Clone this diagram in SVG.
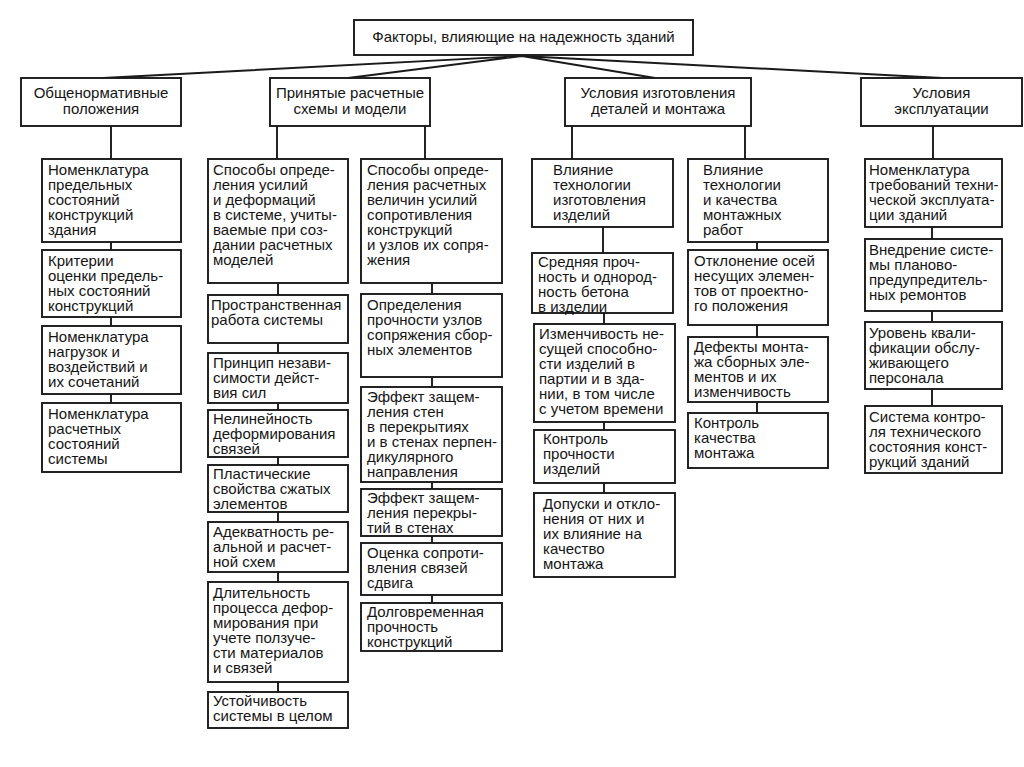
<svg xmlns="http://www.w3.org/2000/svg" width="1024" height="767" viewBox="0 0 1024 767">
<style>
.bg{fill:#ffffff}
.box{fill:#ffffff;stroke:#1a1a1a;stroke-width:1.9}
.ln{stroke:#1a1a1a;stroke-width:1.9;fill:none}
.t{font-family:"Liberation Sans",Arial,sans-serif;font-size:15px;fill:#151515}
.c{text-anchor:middle}
</style>
<rect class="bg" x="0" y="0" width="1024" height="767"/>
<g id="connectors">
<path class="ln" d="M522 56 L103 78 M522 56 L348 78 M522 56 L655 78 M522 56 L942 78"/>
<path class="ln" d="M111 126 V159 M111 242 V250 M111 317 V326 M111 394 V403"/>
<path class="ln" d="M277 126 V159 M278 283 V295 M278 343 V353 M278 403 V410 M278 457 V465 M278 512 V522 M278 572 V582 M278 682 V692"/>
<path class="ln" d="M425 126 V159 M432 283 V294 M432 377 V387 M432 482 V489 M432 536 V543 M432 595 V603"/>
<path class="ln" d="M572 126 V159 M603 227 V253 M604 313 V324 M604 422 V430 M604 483 V493"/>
<path class="ln" d="M745 126 V159 M757 242 V250 M757 325 V337 M757 402 V413"/>
<path class="ln" d="M933 126 V159 M932 227 V239 M932 311 V322 M932 389 V406"/>
</g>
<g id="root">
<rect class="box" x="354" y="20" width="339" height="35"/>
<text class="t c" x="523.5" y="42">Факторы, влияющие на надежность зданий</text>
</g>
<g id="general">
<rect class="box" x="21" y="78" width="160" height="48"/>
<text class="t c" x="101" y="98">Общенормативные<tspan x="101" dy="16">положения</tspan></text>
</g>
<g id="models">
<rect class="box" x="270" y="78" width="160" height="48"/>
<text class="t c" x="350" y="98">Принятые расчетные<tspan x="350" dy="16">схемы и модели</tspan></text>
</g>
<g id="manufacturing">
<rect class="box" x="565" y="78" width="186" height="48"/>
<text class="t c" x="658" y="98">Условия изготовления<tspan x="658" dy="16">деталей и монтажа</tspan></text>
</g>
<g id="operation">
<rect class="box" x="861" y="78" width="161" height="48"/>
<text class="t c" x="941.5" y="98">Условия<tspan x="941.5" dy="16">эксплуатации</tspan></text>
</g>

<g id="c1b1"><rect class="box" x="42" y="159" width="139" height="83"/>
<text class="t" x="48" y="175">Номенклатура<tspan x="48" dy="15">предельных</tspan><tspan x="48" dy="15">состояний</tspan><tspan x="48" dy="15">конструкций</tspan><tspan x="48" dy="15">здания</tspan></text></g>
<g id="c1b2"><rect class="box" x="42" y="250" width="139" height="67"/>
<text class="t" x="48" y="266">Критерии<tspan x="48" dy="15">оценки предель-</tspan><tspan x="48" dy="15">ных состояний</tspan><tspan x="48" dy="15">конструкций</tspan></text></g>
<g id="c1b3"><rect class="box" x="42" y="326" width="139" height="68"/>
<text class="t" x="48" y="342">Номенклатура<tspan x="48" dy="15">нагрузок и</tspan><tspan x="48" dy="15">воздействий и</tspan><tspan x="48" dy="15">их сочетаний</tspan></text></g>
<g id="c1b4"><rect class="box" x="42" y="403" width="139" height="69"/>
<text class="t" x="48" y="419">Номенклатура<tspan x="48" dy="15">расчетных</tspan><tspan x="48" dy="15">состояний</tspan><tspan x="48" dy="15">системы</tspan></text></g>

<g id="c2b1"><rect class="box" x="208" y="159" width="140" height="124"/>
<text class="t" x="213" y="175">Способы опреде-<tspan x="213" dy="15">ления усилий</tspan><tspan x="213" dy="15">и деформаций</tspan><tspan x="213" dy="15">в системе, учиты-</tspan><tspan x="213" dy="15">ваемые при соз-</tspan><tspan x="213" dy="15">дании расчетных</tspan><tspan x="213" dy="15">моделей</tspan></text></g>
<g id="c2b2"><rect class="box" x="208" y="295" width="140" height="48"/>
<text class="t" x="211" y="310">Пространственная<tspan x="211" dy="15">работа системы</tspan></text></g>
<g id="c2b3"><rect class="box" x="208" y="353" width="140" height="50"/>
<text class="t" x="213" y="368">Принцип незави-<tspan x="213" dy="15">симости дейст-</tspan><tspan x="213" dy="15">вия сил</tspan></text></g>
<g id="c2b4"><rect class="box" x="208" y="410" width="140" height="47"/>
<text class="t" x="213" y="424">Нелинейность<tspan x="213" dy="15">деформирования</tspan><tspan x="213" dy="15">связей</tspan></text></g>
<g id="c2b5"><rect class="box" x="208" y="465" width="140" height="47"/>
<text class="t" x="213" y="479">Пластические<tspan x="213" dy="15">свойства сжатых</tspan><tspan x="213" dy="15">элементов</tspan></text></g>
<g id="c2b6"><rect class="box" x="208" y="522" width="140" height="50"/>
<text class="t" x="213" y="537">Адекватность ре-<tspan x="213" dy="15">альной и расчет-</tspan><tspan x="213" dy="15">ной схем</tspan></text></g>
<g id="c2b7"><rect class="box" x="208" y="582" width="140" height="100"/>
<text class="t" x="213" y="598">Длительность<tspan x="213" dy="15">процесса дефор-</tspan><tspan x="213" dy="15">мирования при</tspan><tspan x="213" dy="15">учете ползуче-</tspan><tspan x="213" dy="15">сти материалов</tspan><tspan x="213" dy="15">и связей</tspan></text></g>
<g id="c2b8"><rect class="box" x="208" y="692" width="140" height="36"/>
<text class="t" x="213" y="706">Устойчивость<tspan x="213" dy="15">системы в целом</tspan></text></g>

<g id="c3b1"><rect class="box" x="361" y="159" width="141" height="124"/>
<text class="t" x="367" y="175">Способы опреде-<tspan x="367" dy="15">ления расчетных</tspan><tspan x="367" dy="15">величин усилий</tspan><tspan x="367" dy="15">сопротивления</tspan><tspan x="367" dy="15">конструкций</tspan><tspan x="367" dy="15">и узлов их сопря-</tspan><tspan x="367" dy="15">жения</tspan></text></g>
<g id="c3b2"><rect class="box" x="361" y="294" width="141" height="83"/>
<text class="t" x="367" y="310">Определения<tspan x="367" dy="15">прочности узлов</tspan><tspan x="367" dy="15">сопряжения сбор-</tspan><tspan x="367" dy="15">ных элементов</tspan></text></g>
<g id="c3b3"><rect class="box" x="361" y="387" width="141" height="95"/>
<text class="t" x="367" y="402">Эффект защем-<tspan x="367" dy="15">ления стен</tspan><tspan x="367" dy="15">в перекрытиях</tspan><tspan x="367" dy="15">и в стенах перпен-</tspan><tspan x="367" dy="15">дикулярного</tspan><tspan x="367" dy="15">направления</tspan></text></g>
<g id="c3b4"><rect class="box" x="361" y="489" width="141" height="47"/>
<text class="t" x="367" y="503">Эффект защем-<tspan x="367" dy="15">ления перекры-</tspan><tspan x="367" dy="15">тий в стенах</tspan></text></g>
<g id="c3b5"><rect class="box" x="361" y="543" width="141" height="52"/>
<text class="t" x="367" y="558">Оценка сопроти-<tspan x="367" dy="15">вления связей</tspan><tspan x="367" dy="15">сдвига</tspan></text></g>
<g id="c3b6"><rect class="box" x="361" y="603" width="141" height="48"/>
<text class="t" x="367" y="617">Долговременная<tspan x="367" dy="15">прочность</tspan><tspan x="367" dy="15">конструкций</tspan></text></g>

<g id="c4b1"><rect class="box" x="532" y="159" width="141" height="68"/>
<text class="t" x="553" y="175">Влияние<tspan x="553" dy="15">технологии</tspan><tspan x="553" dy="15">изготовления</tspan><tspan x="553" dy="15">изделий</tspan></text></g>
<g id="c4b2"><rect class="box" x="532" y="253" width="141" height="60"/>
<text class="t" x="538" y="267">Средняя проч-<tspan x="538" dy="15">ность и однород-</tspan><tspan x="538" dy="15">ность бетона</tspan><tspan x="538" dy="15">в изделии</tspan></text></g>
<g id="c4b3"><rect class="box" x="534" y="324" width="141" height="98"/>
<text class="t" x="539" y="339">Изменчивость не-<tspan x="539" dy="15">сущей способно-</tspan><tspan x="539" dy="15">сти изделий в</tspan><tspan x="539" dy="15">партии и в зда-</tspan><tspan x="539" dy="15">нии, в том числе</tspan><tspan x="539" dy="15">с учетом времени</tspan></text></g>
<g id="c4b4"><rect class="box" x="534" y="430" width="141" height="53"/>
<text class="t" x="543" y="444">Контроль<tspan x="543" dy="15">прочности</tspan><tspan x="543" dy="15">изделий</tspan></text></g>
<g id="c4b5"><rect class="box" x="534" y="493" width="141" height="84"/>
<text class="t" x="543" y="509">Допуски и откло-<tspan x="543" dy="15">нения от них и</tspan><tspan x="543" dy="15">их влияние на</tspan><tspan x="543" dy="15">качество</tspan><tspan x="543" dy="15">монтажа</tspan></text></g>

<g id="c5b1"><rect class="box" x="688" y="159" width="140" height="83"/>
<text class="t" x="703" y="175">Влияние<tspan x="703" dy="15">технологии</tspan><tspan x="703" dy="15">и качества</tspan><tspan x="703" dy="15">монтажных</tspan><tspan x="703" dy="15">работ</tspan></text></g>
<g id="c5b2"><rect class="box" x="688" y="250" width="140" height="75"/>
<text class="t" x="694" y="266">Отклонение осей<tspan x="694" dy="15">несущих элемен-</tspan><tspan x="694" dy="15">тов от проектно-</tspan><tspan x="694" dy="15">го положения</tspan></text></g>
<g id="c5b3"><rect class="box" x="688" y="337" width="140" height="65"/>
<text class="t" x="694" y="352">Дефекты монта-<tspan x="694" dy="15">жа сборных эле-</tspan><tspan x="694" dy="15">ментов и их</tspan><tspan x="694" dy="15">изменчивость</tspan></text></g>
<g id="c5b4"><rect class="box" x="688" y="413" width="140" height="55"/>
<text class="t" x="694" y="428">Контроль<tspan x="694" dy="15">качества</tspan><tspan x="694" dy="15">монтажа</tspan></text></g>

<g id="c6b1"><rect class="box" x="865" y="159" width="137" height="68"/>
<text class="t" x="869" y="175">Номенклатура<tspan x="869" dy="15">требований техни-</tspan><tspan x="869" dy="15">ческой эксплуата-</tspan><tspan x="869" dy="15">ции зданий</tspan></text></g>
<g id="c6b2"><rect class="box" x="865" y="239" width="137" height="72"/>
<text class="t" x="869" y="255">Внедрение систе-<tspan x="869" dy="15">мы планово-</tspan><tspan x="869" dy="15">предупредитель-</tspan><tspan x="869" dy="15">ных ремонтов</tspan></text></g>
<g id="c6b3"><rect class="box" x="865" y="322" width="137" height="67"/>
<text class="t" x="869" y="338">Уровень квали-<tspan x="869" dy="15">фикации обслу-</tspan><tspan x="869" dy="15">живающего</tspan><tspan x="869" dy="15">персонала</tspan></text></g>
<g id="c6b4"><rect class="box" x="865" y="406" width="137" height="67"/>
<text class="t" x="869" y="422">Система контро-<tspan x="869" dy="15">ля технического</tspan><tspan x="869" dy="15">состояния конст-</tspan><tspan x="869" dy="15">рукций зданий</tspan></text></g>
</svg>
